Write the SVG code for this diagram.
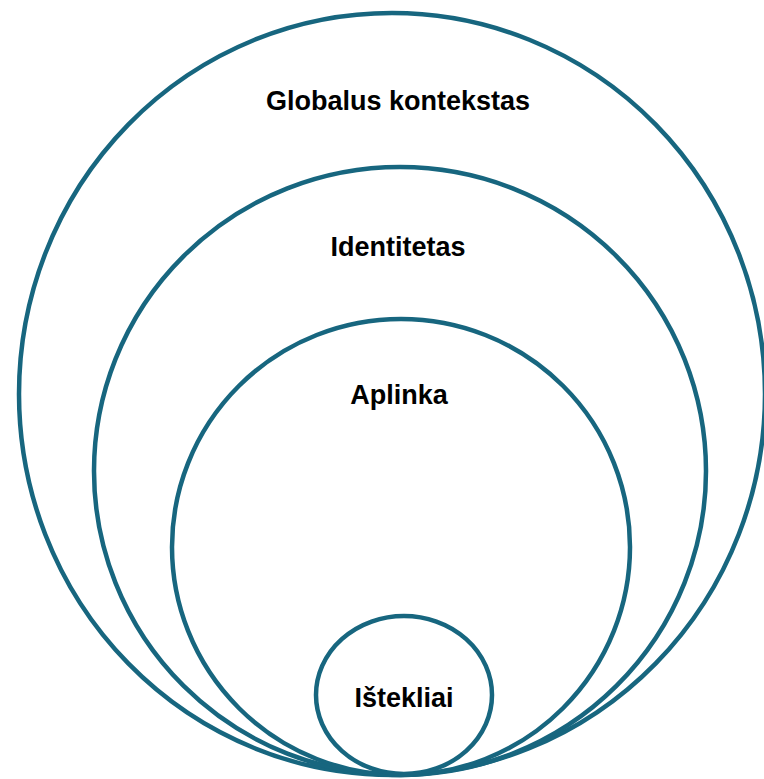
<svg xmlns="http://www.w3.org/2000/svg" width="764" height="779" viewBox="0 0 764 779">
<style>
.c{fill:none;stroke:#17667f;stroke-width:4.5}
.t{font-family:"Liberation Sans",Arial,sans-serif;font-weight:bold;font-size:27px;fill:#000;text-anchor:middle}
</style>
<rect width="764" height="779" fill="#fff"/>
<g id="globalus"><ellipse class="c" cx="392" cy="394" rx="373" ry="381"/><text class="t" x="398" y="110">Globalus kontekstas</text></g>
<g id="identitetas"><ellipse class="c" cx="400" cy="471" rx="306" ry="304"/><text class="t" x="398" y="256">Identitetas</text></g>
<g id="aplinka"><ellipse class="c" cx="401" cy="547" rx="229" ry="228"/><text class="t" x="399" y="404">Aplinka</text></g>
<g id="istekliai"><ellipse class="c" cx="404" cy="695" rx="88" ry="79"/><text class="t" x="404" y="707">Ištekliai</text></g>
<g id="connectors"/>
</svg>
